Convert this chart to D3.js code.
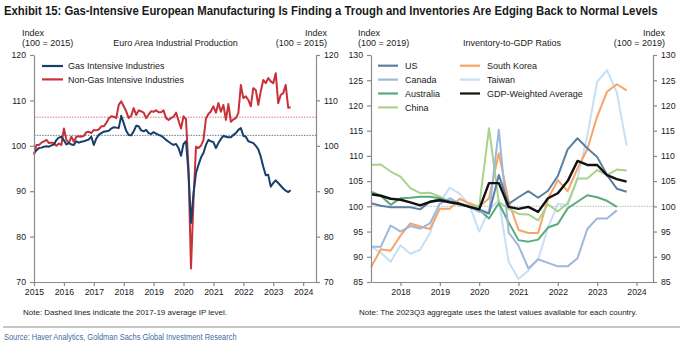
<!DOCTYPE html>
<html>
<head>
<meta charset="utf-8">
<script src="https://cdn.jsdelivr.net/npm/d3@7"></script>
<style>
  body { margin: 0; background: #fff; }
  svg text { font-family: "Liberation Sans", Arial, sans-serif; fill: #1a1a1a; }
  .narrow { font-family: "Liberation Sans Narrow", "Arial Narrow", "Liberation Sans", sans-serif; font-stretch: condensed; }
</style>
</head>
<body>
<svg id="chart" width="682" height="347"></svg>
<script>
// Euro area industrial production, monthly from Jan 2015 (index 2015 = 100)
var gasIntensive = [
  98.4, 99.0, 99.5, 99.6, 99.8, 99.9, 99.8, 100.1, 100.3, 101.3, 101.8, 102.0,
  101.2, 100.3, 100.6, 100.3, 100.2, 101.0, 100.7, 100.9, 101.0, 101.2, 101.4, 102.0,
  100.2, 101.6, 102.4, 102.8, 103.1, 103.2, 103.3, 103.8, 104.1, 104.0, 103.9, 106.6,
  105.0, 103.3, 102.4, 102.3, 103.2, 104.4, 104.3, 103.4, 103.2, 103.5, 102.8, 102.6,
  103.0, 102.7, 102.4, 102.2, 101.8, 101.3, 100.9, 100.5, 100.2, 100.4, 99.5, 97.8,
  100.4, 101.0, 94.0, 83.0, 89.5, 94.0, 95.8, 97.4, 98.4, 100.2, 101.3, 101.0,
  100.8, 99.5, 100.6, 101.5, 102.2, 102.0, 101.9, 101.9, 102.4, 102.8, 103.5, 103.9,
  102.2, 102.0, 101.0, 100.8, 100.6, 100.0, 99.2, 97.6, 95.4, 93.5, 93.6, 91.0,
  91.8, 92.4, 91.8, 91.2, 90.6, 90.1, 89.8, 90.2
];
var nonGasIntensive = [
  98.0, 100.2, 100.2, 100.7, 101.0, 101.3, 100.6, 100.7, 100.6, 100.0, 100.5, 100.2,
  103.8, 101.3, 100.6, 102.0, 100.9, 102.0, 102.1, 102.0, 102.2, 103.0, 103.1, 102.8,
  103.5, 103.4, 103.6, 104.3, 104.3, 105.0, 106.0, 106.5, 106.4, 106.1, 109.0, 109.8,
  108.7, 107.6, 106.1, 106.6, 108.3, 106.8, 107.8, 107.6, 107.3, 106.1, 106.9, 107.6,
  107.5, 107.8, 107.4, 107.4, 107.8, 106.1, 105.7, 106.1, 106.4, 107.3, 105.5, 103.8,
  106.5, 105.8, 95.0, 73.0, 88.0, 99.8, 99.5, 100.0, 101.3, 106.0, 107.0, 107.6,
  108.7, 107.3, 109.4, 107.5, 109.0, 105.7, 109.2, 105.3, 105.8, 106.1, 107.2, 113.4,
  110.5, 110.9, 110.1, 108.7, 112.7, 112.3, 109.0, 112.0, 114.5, 113.8, 114.9, 114.2,
  113.8, 116.0, 109.4, 111.2, 111.6, 113.4, 108.4, 108.5
];
// 2017-19 averages
var avgGas = 102.3;
var avgNonGas = 106.3;

// Inventory-to-GDP ratios, quarterly (index 2019 = 100)
var invUS = [100.6, 100.1, 99.8, 99.8, 99.8, 99.4, 100.9, 101.4, 101.0, 100.5, 99.9, 99.4, 98.6, 106.2,
  100.5, 101.8, 103.0, 101.7, 103.1, 106.0, 111.3, 113.5, 111.5, 109.8, 106.2, 103.5, 102.9];
var invCanada = [92.0, 92.0, 96.2, 95.0, 96.1, 95.6, 96.6, 100.5, 101.6, 100.6, 99.9, 98.9, 98.6, 115.2,
  94.8, 92.2, 87.7, 89.5, 88.8, 88.1, 88.1, 89.7, 95.5, 97.6, 97.6, 99.2];
var invAustralia = [102.9, 102.1, 100.3, 101.6, 101.7, 101.9, 101.9, 101.6, 100.8, 100.3, 100.0, 99.3, 97.6, 100.6,
  96.8, 93.3, 93.0, 93.4, 95.8, 96.5, 99.6, 100.9, 102.2, 101.8, 101.1, 99.9];
var invChina = [108.2, 108.3, 106.9, 105.9, 103.6, 102.6, 102.7, 101.9, 100.9, 100.5, 100.1, 99.9, 115.5, 100.9,
  99.5, 98.5, 98.4, 97.2, 100.4, 99.0, 100.6, 105.5, 105.5, 107.2, 106.2, 107.3, 107.1];
var invKorea = [87.9, 91.5, 91.2, 94.2, 96.6, 96.0, 95.5, 99.5, 99.5, 101.5, 100.6, 99.9, 101.6, 110.5,
  101.0, 95.3, 94.7, 94.7, 101.5, 105.2, 103.0, 107.5, 111.3, 117.8, 122.7, 124.2, 123.0];
var invTaiwan = [92.0, 90.8, 89.0, 92.3, 90.6, 91.4, 94.7, 100.7, 103.7, 102.5, 100.3, 95.0, 99.3, 101.2,
  89.0, 85.6, 87.3, 89.5, 95.8, 100.5, 100.2, 105.5, 114.0, 124.7, 127.0, 122.6, 112.0];
var invGdpWeighted = [102.4, 102.1, 101.5, 101.3, 100.8, 100.2, 100.9, 101.2, 100.8, 100.5, 99.9, 99.4, 104.6, 104.6,
  99.9, 99.5, 99.9, 98.9, 101.6, 102.6, 105.0, 109.0, 108.2, 108.2, 106.2, 105.4, 104.9];

var leftYears = [2015, 2016, 2017, 2018, 2019, 2020, 2021, 2022, 2023, 2024];
var rightYears = [2018, 2019, 2020, 2021, 2022, 2023, 2024];
var leftTicks = [70, 80, 90, 100, 110, 120];
var rightTicks = [85, 90, 95, 100, 105, 110, 115, 120, 125, 130];

var svg = d3.select("#chart");
var axisColor = "#8a8a8a";

// squeezes a text horizontally so that it spans `width` pixels from x
function condensed(x, y, width, size, weight, color, str) {
  var g = svg.append("g");
  var t = g.append("text").attr("class", "narrow")
    .style("font-size", size + "px").style("font-weight", weight).style("fill", color)
    .text(str);
  var natural = t.node().getComputedTextLength();
  g.attr("transform", "translate(" + x + "," + y + ") scale(" + (width / natural) + ",1)");
  return t;
}

// Title --------------------------------------------------------------
condensed(4, 15, 654, 12.5, "bold", "#1a1a1a",
  "Exhibit 15: Gas-Intensive European Manufacturing Is Finding a Trough and Inventories Are Edging Back to Normal Levels");

// Scales ------------------------------------------------------------
var xL = d3.scaleLinear().domain([2015, 2024.43]).range([34, 316]);
var yL = d3.scaleLinear().domain([70, 120]).range([282, 55]);
var xR = d3.scaleLinear().domain([2017.25, 2024.42]).range([371, 653]);
var yR = d3.scaleLinear().domain([85, 130]).range([282, 55]);

// draws the frame (left, right, bottom axes) of one panel
function drawAxes(x, y, years, ticks) {
  var x0 = x.range()[0], x1 = x.range()[1];
  var g = svg.append("g");
  var left = g.append("g").attr("transform", "translate(" + x0 + ",0)")
    .call(d3.axisLeft(y).tickValues(ticks).tickSize(4).tickSizeOuter(0).tickPadding(4));
  var right = g.append("g").attr("transform", "translate(" + x1 + ",0)")
    .call(d3.axisRight(y).tickValues(ticks).tickSize(4).tickSizeOuter(0).tickPadding(4));
  var bottom = g.append("g").attr("transform", "translate(0," + y.range()[0] + ")")
    .call(d3.axisBottom(x).tickValues(years).tickFormat(d3.format("d")).tickSize(4).tickSizeOuter(0).tickPadding(3));
  [left, right, bottom].forEach(function (a) {
    a.selectAll("path, line").attr("stroke", axisColor).attr("stroke-width", 1.2);
    a.selectAll("text").style("font-size", "8.7px").attr("fill", "#1a1a1a")
      .style("font-family", "'Liberation Sans', Arial, sans-serif");
  });
}

function header(xl, xr, xc, base, title) {
  svg.append("text").attr("x", xl).attr("y", 36).style("font-size", "9px").text("Index");
  svg.append("text").attr("x", xl).attr("y", 46).style("font-size", "9px").text("(" + base + ")");
  svg.append("text").attr("x", xr).attr("y", 36).attr("text-anchor", "end").style("font-size", "9px").text("Index");
  svg.append("text").attr("x", xr).attr("y", 46).attr("text-anchor", "end").style("font-size", "9px").text("(" + base + ")");
  svg.append("text").attr("x", xc).attr("y", 46).attr("text-anchor", "middle").style("font-size", "9px").text(title);
}

// Left panel: industrial production ----------------------------------
header(22, 327, 175.5, "100 = 2015", "Euro Area Industrial Production");

svg.append("line")
  .attr("x1", xL.range()[0]).attr("x2", xL.range()[1])
  .attr("y1", yL(avgNonGas)).attr("y2", yL(avgNonGas))
  .attr("stroke", "#d0393f").attr("stroke-width", 0.7).attr("stroke-dasharray", "1.5,1.2");
svg.append("line")
  .attr("x1", xL.range()[0]).attr("x2", xL.range()[1])
  .attr("y1", yL(avgGas)).attr("y2", yL(avgGas))
  .attr("stroke", "#1b3f6a").attr("stroke-width", 0.7).attr("stroke-dasharray", "1.5,1.2");

var lineL = d3.line()
  .x(function (d, i) { return xL(2015 + i / 12); })
  .y(function (d) { return yL(d); });

svg.append("path").datum(nonGasIntensive).attr("d", lineL)
  .attr("fill", "none").attr("stroke", "#c9313a").attr("stroke-width", 2).attr("stroke-linejoin", "round");
svg.append("path").datum(gasIntensive).attr("d", lineL)
  .attr("fill", "none").attr("stroke", "#163f6b").attr("stroke-width", 2).attr("stroke-linejoin", "round");

drawAxes(xL, yL, leftYears, leftTicks);

var leftLegend = [
  { name: "Gas Intensive Industries", color: "#163f6b" },
  { name: "Non-Gas Intensive Industries", color: "#c9313a" }
];
leftLegend.forEach(function (d, i) {
  var yy = 66 + i * 13.4;
  svg.append("line").attr("x1", 42).attr("x2", 63).attr("y1", yy).attr("y2", yy)
    .attr("stroke", d.color).attr("stroke-width", 2.2);
  svg.append("text").attr("x", 68).attr("y", yy + 3.2).style("font-size", "9px").text(d.name);
});

svg.append("text").attr("x", 23).attr("y", 315).style("font-size", "8px")
  .text("Note: Dashed lines indicate the 2017-19 average IP level.");

// Right panel: inventory-to-GDP ratios -------------------------------
header(358, 665, 512, "100 = 2019", "Inventory-to-GDP Ratios");

svg.append("line")
  .attr("x1", xR.range()[0]).attr("x2", xR.range()[1])
  .attr("y1", yR(100)).attr("y2", yR(100))
  .attr("stroke", "#9a9a9a").attr("stroke-width", 0.7).attr("stroke-dasharray", "1.5,1.2");

var rightSeries = [
  { name: "US", values: invUS, color: "#5d7f9f", width: 2 },
  { name: "Canada", values: invCanada, color: "#9db8da", width: 2 },
  { name: "Australia", values: invAustralia, color: "#5aab7b", width: 2 },
  { name: "China", values: invChina, color: "#a9d28d", width: 2 },
  { name: "South Korea", values: invKorea, color: "#f6a468", width: 2 },
  { name: "Taiwan", values: invTaiwan, color: "#c6e0f6", width: 2 },
  { name: "GDP-Weighted Average", values: invGdpWeighted, color: "#111111", width: 2.4 }
];

var lineR = d3.line()
  .x(function (d, i) { return xR(2017.25 + i * 0.25); })
  .y(function (d) { return yR(d); });

// draw order: light ones first, black average on top
[5, 4, 3, 2, 1, 0, 6].forEach(function (k) {
  var s = rightSeries[k];
  svg.append("path").datum(s.values).attr("d", lineR)
    .attr("fill", "none").attr("stroke", s.color).attr("stroke-width", s.width)
    .attr("stroke-linejoin", "round");
});

drawAxes(xR, yR, rightYears, rightTicks);

rightSeries.forEach(function (s, i) {
  var col = i < 4 ? 0 : 1;
  var row = i < 4 ? i : i - 4;
  var lx = col === 0 ? 378 : 460;
  var yy = 65.7 + row * 13.9;
  svg.append("line").attr("x1", lx).attr("x2", lx + 20).attr("y1", yy).attr("y2", yy)
    .attr("stroke", s.color).attr("stroke-width", 2.2);
  svg.append("text").attr("x", lx + 27).attr("y", yy + 3.2).style("font-size", "9px").text(s.name);
});

svg.append("text").attr("x", 359).attr("y", 315).style("font-size", "8px")
  .text("Note: The 2023Q3 aggregate uses the latest values available for each country.");

// Footer -------------------------------------------------------------
svg.append("line").attr("x1", 3).attr("x2", 680).attr("y1", 327).attr("y2", 327)
  .attr("stroke", "#8c8c8c").attr("stroke-width", 1);
condensed(4, 340, 233, 9.5, "normal", "#3f6c9c",
  "Source: Haver Analytics, Goldman Sachs Global Investment Research");
</script>
</body>
</html>
